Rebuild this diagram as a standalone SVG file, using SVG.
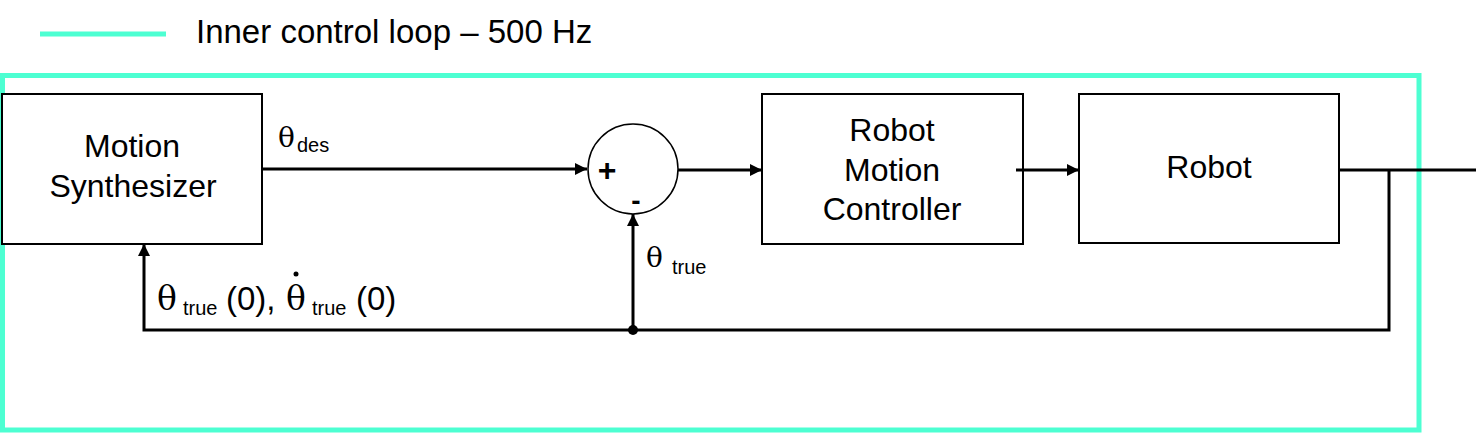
<svg xmlns="http://www.w3.org/2000/svg" width="1476" height="433" viewBox="0 0 1476 433">
<style>
.box{fill:#fff;stroke:#000;stroke-width:2}
.lbl{font-family:"Liberation Sans",Arial,sans-serif;font-size:32px;fill:#000;text-anchor:middle}
.wire{fill:none;stroke:#000;stroke-width:3}
.th{font-family:"DejaVu Serif","Liberation Serif",serif;fill:#000}
.sans{font-family:"Liberation Sans",Arial,sans-serif;fill:#000}
.teal{fill:none;stroke:#4dffd2;stroke-width:5}
</style>
<defs>
<marker id="arr" markerUnits="userSpaceOnUse" markerWidth="12" markerHeight="12" refX="12" refY="6" orient="auto">
<path d="M0,0 L12,6 L0,12 z" fill="#000"/>
</marker>
</defs>
<rect width="1476" height="433" fill="#fff"/>
<g id="legend">
<line x1="40" y1="34" x2="166" y2="34" class="teal"/>
<text x="196" y="43" class="sans" font-size="33">Inner control loop – 500 Hz</text>
</g>
<rect id="loop-border" x="2.5" y="75.5" width="1416.5" height="354.5" class="teal"/>
<g id="motion-synth">
<rect x="2" y="94" width="260" height="150" class="box"/>
<text class="lbl" x="132" y="157">Motion</text>
<text class="lbl" x="133" y="197">Synthesizer</text>
</g>
<g id="sum">
<circle cx="633" cy="169" r="45" fill="#fff" stroke="#000" stroke-width="1.5"/>
<text x="607" y="181" class="sans" font-size="32" font-weight="bold" text-anchor="middle">+</text>
<text x="636" y="210" class="sans" font-size="28" font-weight="bold" text-anchor="middle">-</text>
</g>
<g id="robot-motion-controller">
<rect x="762" y="94" width="261" height="150" class="box"/>
<text class="lbl" x="892" y="141">Robot</text>
<text class="lbl" x="892" y="181">Motion</text>
<text class="lbl" x="892" y="220">Controller</text>
</g>
<g id="robot">
<rect x="1079" y="94" width="260" height="149" class="box"/>
<text class="lbl" x="1209" y="178">Robot</text>
</g>
<g id="connectors">
<path class="wire" d="M262,169 H587" marker-end="url(#arr)"/>
<path class="wire" d="M678,170 H762" marker-end="url(#arr)"/>
<path class="wire" d="M1016,170 H1079" marker-end="url(#arr)"/>
<path class="wire" d="M1339,170 H1476"/>
<path class="wire" d="M1389,170 V330 H144 V244" marker-end="url(#arr)"/>
<path class="wire" d="M633,330 V214" marker-end="url(#arr)"/>
<circle cx="633" cy="330" r="5" fill="#000"/>
</g>
<g id="labels">
<text x="278" y="147" class="th" font-size="28">θ</text>
<text x="297" y="152" class="sans" font-size="20">des</text>
<text x="646" y="267" class="th" font-size="28">θ</text>
<text x="672" y="274" class="sans" font-size="20">true</text>
<text x="157" y="310" class="th" font-size="33">θ</text>
<text x="183" y="315" class="sans" font-size="20">true</text>
<text x="226" y="310" class="sans" font-size="33">(0),</text>
<text x="286" y="310" class="th" font-size="33">θ</text>
<circle cx="296" cy="274" r="2.5" fill="#000"/>
<text x="312" y="315" class="sans" font-size="20">true</text>
<text x="356" y="310" class="sans" font-size="33">(0)</text>
</g>
</svg>
